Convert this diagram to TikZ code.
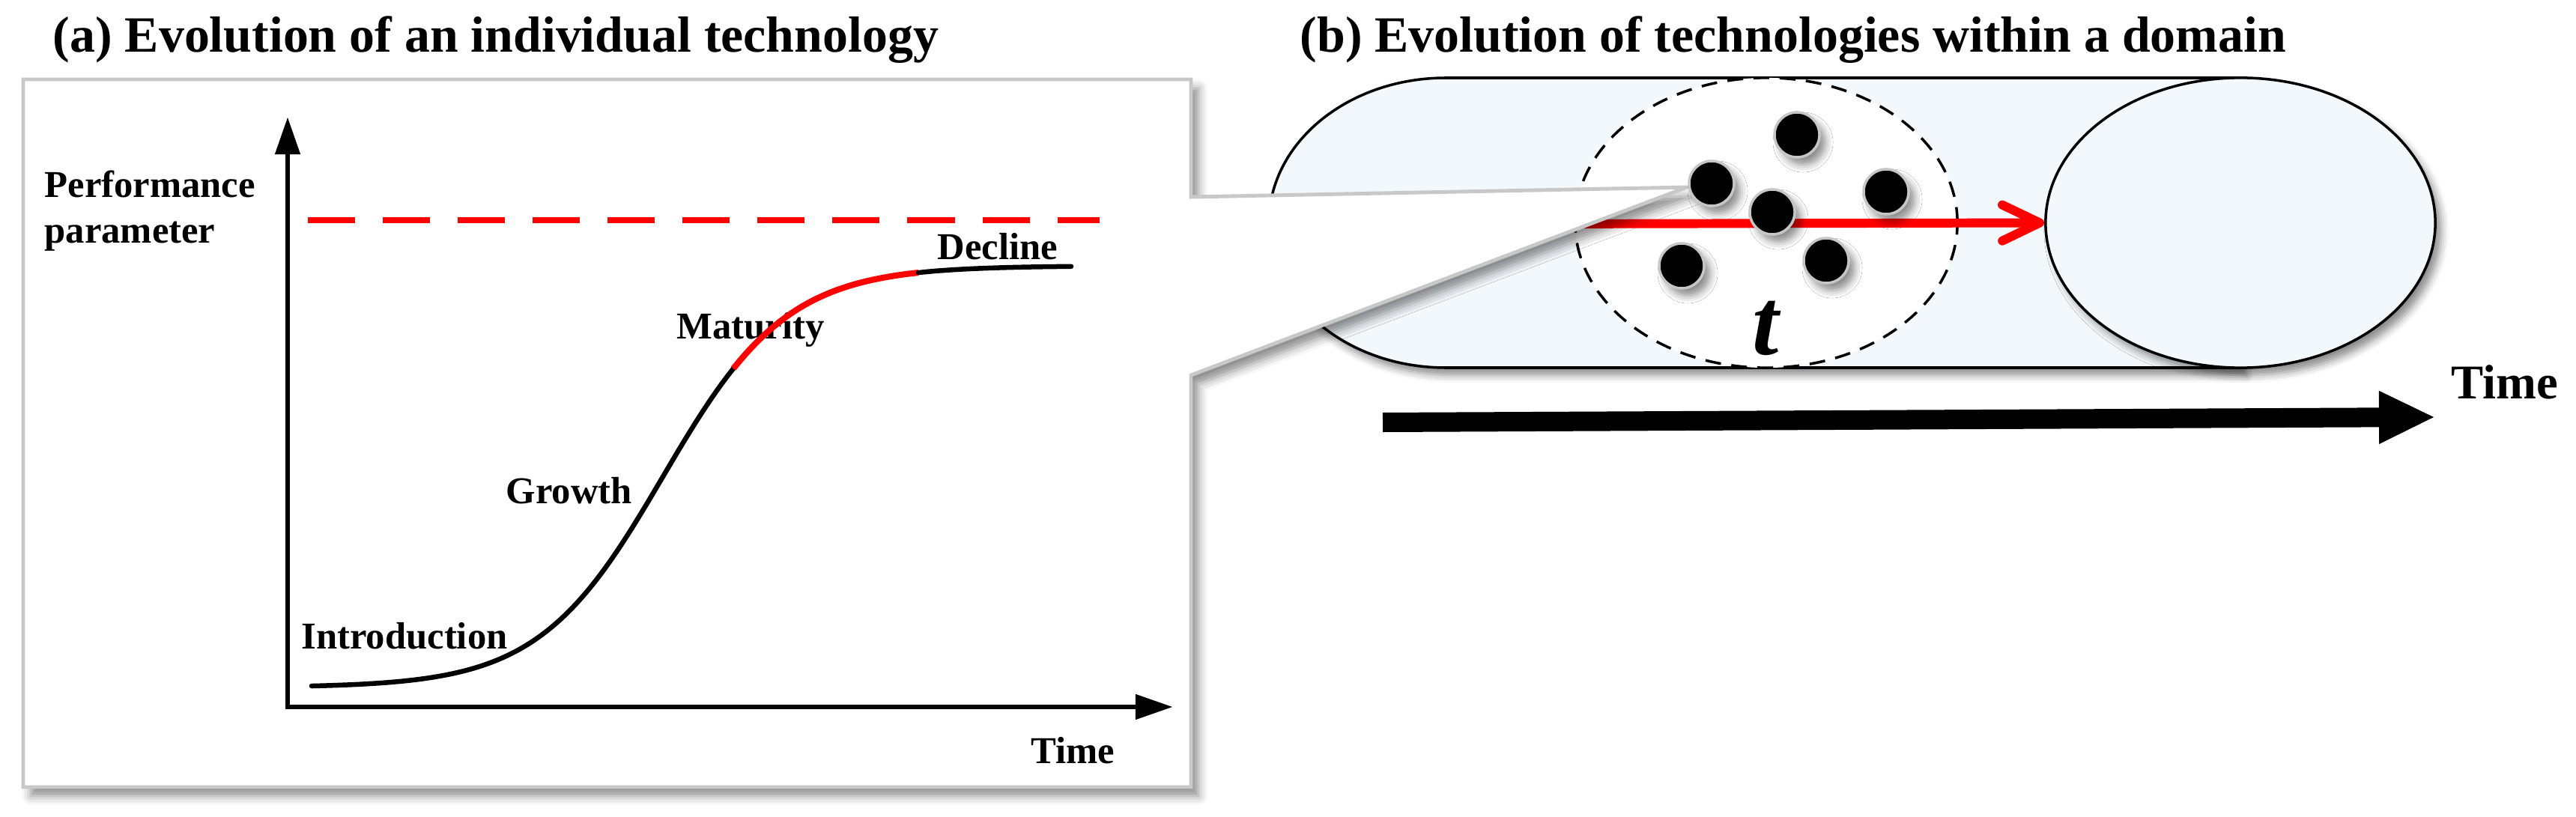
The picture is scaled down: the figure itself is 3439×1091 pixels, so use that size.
\documentclass[tikz,border=0pt]{standalone}
\usepackage{fontspec}
\setmainfont{Liberation Serif}
\usetikzlibrary{arrows.meta,shapes.geometric,shadows.blur}
\definecolor{boxgray}{RGB}{200,200,200}
\definecolor{cylfill}{RGB}{243,248,252}
\tikzset{
  declare function={sc(\t)=918-563/(1+exp(-(\t-885)/83));},
  paneltitle/.style={anchor=base west,inner sep=0pt,font=\fontsize{19.3}{23}\selectfont\bfseries},
  stagelabel/.style={anchor=base west,inner sep=0pt,font=\fontsize{14.4}{17}\selectfont\bfseries},
  axes/.style={line width=1.7pt,{Triangle[width=3.4mm,length=4.9mm,line width=0.3pt,fill=black]}-{Triangle[width=3.4mm,length=4.9mm,line width=0.3pt,fill=black]}},
  softshadow/.style={blur shadow={shadow xshift=0.8mm,shadow yshift=-1mm,shadow blur radius=1mm,shadow opacity=45}},
  dot/.style={circle,fill=black,draw=gray!45,line width=1pt,minimum size=0.6cm,inner sep=0pt,softshadow}
}
\begin{document}
\begin{tikzpicture}[x=0.01cm,y=-0.01cm]
\useasboundingbox (0,0) rectangle (3439,1091);

% (b) the domain as a cylinder
\path[draw,fill=cylfill,line width=1pt,softshadow] (1930,104) -- (2991,104) -- (2991,491) -- (1930,491)
  arc[start angle=90,end angle=270,x radius=236,y radius=193.5] -- cycle;
\node[draw,ellipse,fill=cylfill,line width=1pt,minimum width=5.2cm,minimum height=3.87cm,inner sep=0pt,softshadow] (face) at (2991,297.5) {};
\node[draw,ellipse,dashed,dash pattern=on 2.1mm off 1.4mm,fill=white,line width=1pt,minimum width=5.1cm,minimum height=3.87cm,inner sep=0pt] (ring) at (2358,297.5) {};
\coordinate (rstart) at (2050,299);
\draw[red,line width=3.4pt,-{Straight Barb[length=5mm,width=4.8mm,round]}] (rstart) -- (face.west);

% (a) callout box
\coordinate (tip) at (2252,250);
\path[draw=boxgray,fill=white,line width=1.4pt,blur shadow={shadow xshift=1mm,shadow yshift=-1.2mm,shadow blur radius=1.2mm,shadow opacity=45}]
  (31,106) -- (1590,106) -- (1590,263) -- (tip) -- (1590,501) -- (1590,1051) -- (31,1051) -- cycle;

% technologies
\node[dot] (d1) at (2399,180) {};
\node[dot] (d2) at (2285,245) {};
\node[dot] (d3) at (2518,256) {};
\node[dot] (d4) at (2366,283) {};
\node[dot] (d5) at (2245,355) {};
\node[dot] (d6) at (2438,348) {};
\node[anchor=base,inner sep=0pt,font=\fontsize{36}{40}\selectfont\bfseries\itshape] (tlabel) at (2357,473) {t};

% time axis of (b)
\coordinate (tl) at (1846,564);
\coordinate (tr) at (3249,557);
\draw[line width=7.4pt,-{Triangle[length=7.3mm,width=7.1mm,line width=0.3pt,fill=black]}] (tl) -- (tr);
\node[anchor=base west,inner sep=0pt,font=\fontsize{18.4}{22}\selectfont\bfseries] (timeb) at (3272,532) {Time};

% (a) S-curve
\node[stagelabel] (perf) at (59,263) {Performance};
\node[stagelabel] (param) at (59,324) {parameter};
\node[stagelabel] (intro) at (402,866) {Introduction};
\node[stagelabel] (growth) at (675,672) {Growth};
\node[stagelabel] (mature) at (903,452) {Maturity};
\node[stagelabel] (decline) at (1251,346) {Decline};
\node[stagelabel] (timea) at (1376,1019) {Time};

\coordinate (O) at (384,944);
\coordinate (ytop) at (384,157);
\coordinate (xend) at (1565,944);
\draw[axes] (ytop) -- (O) -- (xend);
\draw[red,line width=2.3pt,dash pattern=on 6.3mm off 3.7mm] (411,294) -- (1468,294);

\draw[line width=1.85pt,line cap=round] plot[domain=416:979,samples=60,smooth] (\x,{sc(\x)});
\draw[red,line width=2.3pt] plot[domain=979:1226,samples=30,smooth] (\x,{sc(\x)});
\draw[line width=1.85pt,line cap=round] plot[domain=1226:1430,samples=25,smooth] (\x,{sc(\x)});

% titles
\node[paneltitle] (titlea) at (70,70) {(a) Evolution of an individual technology};
\node[paneltitle] (titleb) at (1735,70) {(b) Evolution of technologies within a domain};
\end{tikzpicture}
\end{document}
